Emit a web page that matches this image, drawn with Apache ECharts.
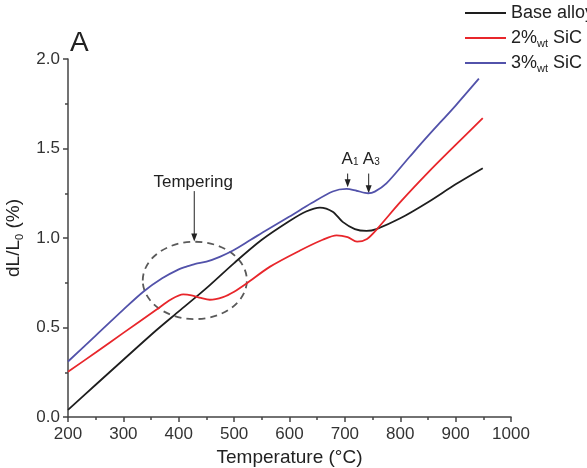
<!DOCTYPE html>
<html>
<head>
<meta charset="utf-8">
<script src="https://cdn.jsdelivr.net/npm/echarts@6/dist/echarts.min.js"></script>
<style>
  html, body { margin: 0; padding: 0; background: #fff; }
  #chart { width: 587px; height: 468px; }
</style>
</head>
<body>
<div id="chart"></div>
<script>
// dilatometry curves
const baseT = [200, 250, 300, 360, 400, 450, 500, 550, 600, 630, 655, 678, 696, 718, 739, 757, 800, 850, 900, 949];
const baseV = [0.04, 0.18, 0.32, 0.486, 0.59, 0.72, 0.86, 0.99, 1.095, 1.148, 1.17, 1.147, 1.09, 1.05, 1.04, 1.05, 1.11, 1.2, 1.3, 1.39];

const sic2T = [200, 250, 300, 360, 385, 408, 423, 440, 456, 480, 500, 522, 565, 619, 660, 685, 705, 722, 740, 758, 800, 850, 900, 949];
const sic2V = [0.253, 0.36, 0.47, 0.6, 0.655, 0.685, 0.68, 0.665, 0.655, 0.67, 0.7, 0.745, 0.84, 0.93, 0.99, 1.015, 1.005, 0.98, 0.995, 1.05, 1.2, 1.365, 1.52, 1.67];

const sic3T = [200, 250, 300, 336, 370, 400, 414, 430, 450, 474, 498, 530, 559, 600, 640, 678, 703, 721, 742, 754, 775, 817, 850, 900, 942];
const sic3V = [0.31, 0.455, 0.6, 0.7, 0.775, 0.825, 0.84, 0.855, 0.868, 0.895, 0.93, 0.99, 1.045, 1.12, 1.195, 1.26, 1.274, 1.264, 1.25, 1.259, 1.305, 1.454, 1.57, 1.74, 1.89];

const seriesNames = ['Base alloy', '2%wt SiC', '3%wt SiC'];
const seriesColors = ['#1e1e1e', '#e8262b', '#5252aa'];

const xTicks = { min: 200, max: 1000, step: 100 };
const yTicks = { min: 0, max: 2, step: 0.5 };

function zip(xs, ys) {
    return xs.map((x, i) => [x, ys[i]]);
}

const chart = echarts.init(document.getElementById('chart'));

const sub = { fontSize: 11, verticalAlign: 'bottom', lineHeight: 11 };
const axisCol = '#444';

const option = {
    animation: false,
    title: {
        text: 'A',
        left: 70,
        top: 29,
        padding: 0,
        textStyle: { fontSize: 28, fontWeight: 'normal', color: '#222', fontFamily: 'Liberation Sans' }
    },
    legend: {
        orient: 'vertical',
        left: 465,
        top: 2,
        padding: 0,
        icon: 'rect',
        itemWidth: 41,
        itemHeight: 2,
        itemGap: 3,
        data: seriesNames,
        formatter: name => name.replace('%wt', '%{s|wt}'),
        textStyle: {
            fontSize: 18, color: '#222', lineHeight: 22, fontFamily: 'Liberation Sans',
            rich: { s: sub }
        }
    },
    grid: { left: 68, right: 76, top: 59, bottom: 51, outerBoundsMode: 'none' },
    xAxis: {
        type: 'value',
        min: xTicks.min, max: xTicks.max, interval: xTicks.step,
        name: 'Temperature (°C)',
        nameLocation: 'middle',
        nameGap: 31,
        nameTextStyle: { fontSize: 19, color: '#222', fontFamily: 'Liberation Sans' },
        axisLine: { lineStyle: { color: axisCol, width: 1.5 } },
        axisTick: { length: 5, lineStyle: { color: axisCol, width: 1.5 } },
        minorTick: { show: true, splitNumber: 2, length: 3, lineStyle: { color: axisCol, width: 1.5 } },
        axisLabel: { fontSize: 17, color: '#333', margin: 9, fontFamily: 'Liberation Sans', formatter: v => String(v) },
        splitLine: { show: false }
    },
    yAxis: {
        type: 'value',
        min: yTicks.min, max: yTicks.max, interval: yTicks.step,
        name: 'dL/L{s|0} (%)',
        nameLocation: 'middle',
        nameGap: 43,
        nameTextStyle: {
            fontSize: 19, color: '#222', lineHeight: 22, fontFamily: 'Liberation Sans',
            rich: { s: sub }
        },
        axisLine: { show: true, lineStyle: { color: axisCol, width: 1.5 } },
        axisTick: { show: true, length: 5, lineStyle: { color: axisCol, width: 1.5 } },
        minorTick: { show: true, splitNumber: 2, length: 3, lineStyle: { color: axisCol, width: 1.5 } },
        axisLabel: { fontSize: 17, color: '#333', margin: 8, fontFamily: 'Liberation Sans', formatter: v => v.toFixed(1) },
        splitLine: { show: false }
    },
    series: [
        { name: seriesNames[0], data: zip(baseT, baseV) },
        { name: seriesNames[1], data: zip(sic2T, sic2V) },
        { name: seriesNames[2], data: zip(sic3T, sic3V) }
    ].map((s, i) => Object.assign(s, {
        type: 'line',
        symbol: 'none',
        smooth: 0.3,
        color: seriesColors[i],
        lineStyle: { color: seriesColors[i], width: 1.8 }
    }))
};

chart.setOption(option);

// annotations, placed from data coordinates
const px = (x, y) => chart.convertToPixel({ gridIndex: 0 }, [x, y]);

function arrow(x, yFrom, yTo) {
    const a = px(x, yFrom), b = px(x, yTo);
    return [
        { type: 'line', shape: { x1: a[0], y1: a[1], x2: b[0], y2: b[1] - 6 }, style: { stroke: '#222', lineWidth: 1 } },
        { type: 'polygon', shape: { points: [[b[0] - 3, b[1] - 8], [b[0] + 3, b[1] - 8], [b[0], b[1]]] }, style: { fill: '#222' } }
    ];
}

const ellC = px(429, 0.763), ellL = px(335, 0.763), ellT = px(429, 0.979);
const tempPos = px(426, 1.313);
const a1Pos = px(694, 1.44), a3Pos = px(732.5, 1.44);
const labelRich = { a: { fontSize: 17, fontFamily: 'Liberation Sans', fill: '#222' }, s: { fontSize: 10, fontFamily: 'Liberation Sans', fill: '#222', verticalAlign: 'bottom', lineHeight: 10 } };

chart.setOption({
    graphic: [
        {
            type: 'ellipse',
            shape: { cx: ellC[0], cy: ellC[1], rx: ellC[0] - ellL[0], ry: ellC[1] - ellT[1] },
            style: { fill: 'none', stroke: '#5a5a5a', lineWidth: 1.8, lineDash: [7, 5] }
        },
        {
            type: 'text', x: tempPos[0], y: tempPos[1],
            style: { text: 'Tempering', fontSize: 17, fontFamily: 'Liberation Sans', fill: '#222', textAlign: 'center', textVerticalAlign: 'middle' }
        },
        {
            type: 'text', x: a1Pos[0], y: a1Pos[1],
            style: { text: '{a|A}{s|1}', rich: labelRich, textAlign: 'left', textVerticalAlign: 'middle' }
        },
        {
            type: 'text', x: a3Pos[0], y: a3Pos[1],
            style: { text: '{a|A}{s|3}', rich: labelRich, textAlign: 'left', textVerticalAlign: 'middle' }
        },
        ...arrow(428, 1.262, 0.98),
        ...arrow(705, 1.36, 1.283),
        ...arrow(743, 1.36, 1.25)
    ]
});
</script>
</body>
</html>
